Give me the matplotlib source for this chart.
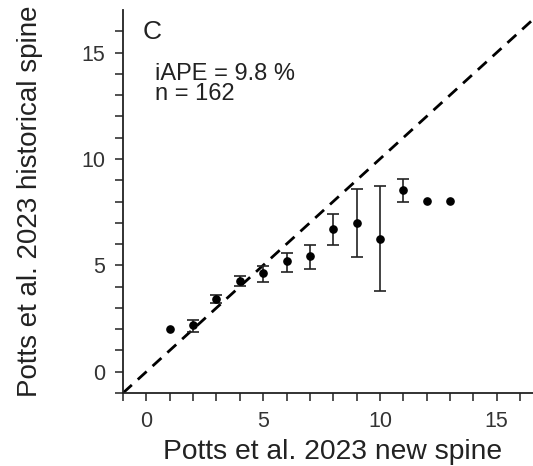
import matplotlib
matplotlib.use("Agg")
import matplotlib.pyplot as plt
import numpy as np

plt.rcParams['font.family'] = ['Liberation Sans', 'DejaVu Sans']

# Data
new_spine = [1, 2, 3, 4, 5, 6, 7, 8, 9, 10, 11, 12, 13]
hist_mean = [2.02, 2.2, 3.43, 4.27, 4.66, 5.21, 5.45, 6.70, 7.01, 6.23, 8.54, 8.01, 8.01]
err_upper = [2.02, 2.44, 3.60, 4.50, 4.98, 5.57, 5.96, 7.42, 8.61, 8.75, 9.06, 8.01, 8.01]
err_lower = [2.02, 1.89, 3.22, 4.05, 4.24, 4.71, 4.85, 5.96, 5.38, 3.80, 7.97, 8.01, 8.01]
has_err = [False, True, True, True, True, True, True, True, True, True, True, False, False]
major_ticks = [0, 5, 10, 15]
minor_ticks = list(range(-1, 17))
panel_label = "C"
stats_line1 = "iAPE = 9.8 %"
stats_line2 = "n = 162"
xlabel = "Potts et al. 2023 new spine"
ylabel = "Potts et al. 2023 historical spine"

W, H = 533, 466
fig = plt.figure(figsize=(W / 100, H / 100), dpi=100)
ax = fig.add_axes([123 / W, (H - 393) / H, (W - 123) / W, (393 - 10) / H])

ax.set_xlim(-1, (W - 146) / 23.38)
ax.set_ylim(-1, 17)

# 1:1 dashed line
ax.plot([-1, 18], [-1, 18], color='black', lw=2.0, linestyle=(0, (4.3, 2.9)), zorder=2)

x = np.array(new_spine, dtype=float)
m = np.array(hist_mean)
up = np.array(err_upper)
lo = np.array(err_lower)
mask = np.array(has_err)
ax.errorbar(x[mask], m[mask], yerr=[m[mask] - lo[mask], up[mask] - m[mask]],
            fmt='none', ecolor='#222222', elinewidth=1.2, capsize=4.2, capthick=1.2, zorder=3)
ax.plot(x, m, 'o', color='black', markersize=5.2, zorder=4)

for s in ['top', 'right']:
    ax.spines[s].set_visible(False)
for s in ['left', 'bottom']:
    ax.spines[s].set_linewidth(1.3)
    ax.spines[s].set_color('#222222')

ax.set_xticks(minor_ticks)
ax.set_yticks(minor_ticks)
ax.set_xticklabels([str(t) if t in major_ticks else '' for t in minor_ticks])
ax.set_yticklabels([str(t) if t in major_ticks else '' for t in minor_ticks])
ax.tick_params(direction='out', length=6, width=1.1, color='#222222',
               labelsize=15.5, labelcolor='#333333')
ax.tick_params(axis='x', pad=7)
ax.tick_params(axis='y', pad=7)

ax.set_xlabel(xlabel, fontsize=20.3, color='#222222')
ax.set_ylabel(ylabel, fontsize=20, color='#222222')
ax.xaxis.set_label_coords((332.5 - 123) / 410, (393 - 439) / 383)
ax.yaxis.set_label_coords((43 - 123) / 410, 0.5)

ax.text(-0.14, 15.63, panel_label, fontsize=19, color='#222222', va='baseline', ha='left')
ax.text(0.38, 13.72, stats_line1, fontsize=17, color='#222222', va='baseline', ha='left')
ax.text(0.38, 12.78, stats_line2, fontsize=17, color='#222222', va='baseline', ha='left')

fig.savefig("out.png", dpi=100)
